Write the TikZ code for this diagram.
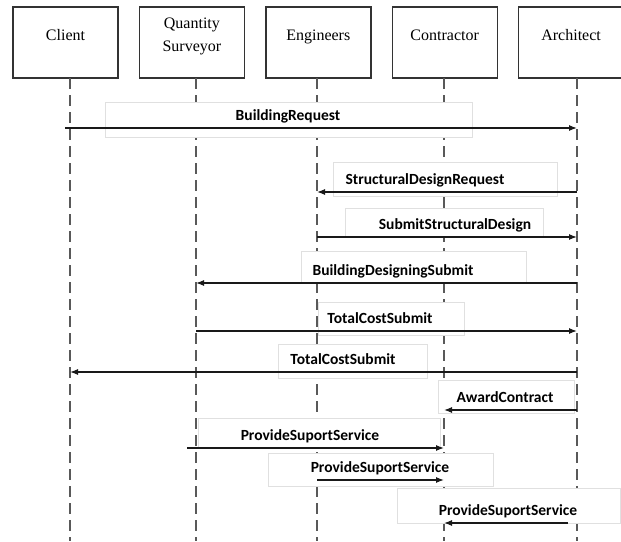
\documentclass[tikz,border=0pt]{standalone}
\usepackage{fontspec}
\setmainfont{Liberation Serif}
\newfontfamily\msgfont{Carlito}
\usetikzlibrary{arrows.meta, positioning}

\newcommand{\headtext}[1]{\raisebox{7pt}[\height][\depth]{\begin{tabular}{@{}c@{}}#1\end{tabular}}}

\begin{document}
\begin{tikzpicture}[
        x=1pt, y=-1pt,
        node distance=20pt,
        actor/.style={draw=black!80, line width=1.4pt, minimum width=105pt, minimum height=71pt, inner sep=0pt, font=\fontsize{16}{23}\selectfont},
        lifeline/.style={draw=black!65, line width=1.5pt, dash pattern=on 11pt off 6pt},
        lblbox/.style={draw=black!12, fill=white, line width=0.8pt},
        msglabel/.style={anchor=south, inner xsep=0pt, inner ysep=3pt, text height=11pt, text depth=4pt, font=\msgfont\bfseries\fontsize{15.5}{18}\selectfont},
        msg/.style={draw=black!90, line width=1.2pt, -{Latex[length=8pt, width=6pt]}},
    ]
    \useasboundingbox (0,0) rectangle (621,541);

    % actors
    \node[actor] (client) at (65.5,42.5) {\headtext{Client}};
    \node[actor, right=of client] (qs) {\headtext{Quantity\\Surveyor}};
    \node[actor, right=of qs] (eng) {\headtext{Engineers}};
    \node[actor, right=of eng] (con) {\headtext{Contractor}};
    \node[actor, right=of con] (arch) {\headtext{Architect}};

    % lifelines
    \foreach \name/\x in {client/70, qs/196, eng/317, con/444, arch/577}{
        \coordinate (l-\name) at (\x,78);
        \draw[lifeline] (l-\name) -- (\x,541);
    }

    % BuildingRequest
    \draw[lblbox] (105,102) rectangle (472,137);
    \node[msglabel] (br) at (288,128) {BuildingRequest};
    \draw[msg] ([xshift=-5pt]l-client |- br.south) -- (l-arch |- br.south);

    % StructuralDesignRequest
    \draw[lblbox] (333,162) rectangle (557,196);
    \node[msglabel] (sdr) at (425,192) {StructuralDesignRequest};
    \draw[msg] (l-arch |- sdr.south) -- (l-eng |- sdr.south);

    % SubmitStructuralDesign
    \draw[lblbox] (345,208) rectangle (543,236);
    \node[msglabel] (ssd) at (455,237) {SubmitStructuralDesign};
    \draw[msg] (l-eng |- ssd.south) -- (l-arch |- ssd.south);

    % BuildingDesigningSubmit
    \draw[lblbox] (301,251) rectangle (526,283);
    \node[msglabel] (bds) at (393,283) {BuildingDesigningSubmit};
    \draw[msg] (l-arch |- bds.south) -- (l-qs |- bds.south);

    % TotalCostSubmit (QS -> Architect)
    \draw[lblbox] (318,302) rectangle (464,335);
    \node[msglabel] (tcs1) at (380,331) {TotalCostSubmit};
    \draw[msg] (l-qs |- tcs1.south) -- (l-arch |- tcs1.south);

    % TotalCostSubmit (Architect -> Client)
    \draw[lblbox] (278,344) rectangle (427,378);
    \node[msglabel] (tcs2) at (343,372) {TotalCostSubmit};
    \draw[msg] (l-arch |- tcs2.south) -- (l-client |- tcs2.south);

    % AwardContract
    \draw[lblbox] (438,380) rectangle (574,413);
    \node[msglabel] (ac) at (505,410) {AwardContract};
    \draw[msg] (l-arch |- ac.south) -- (l-con |- ac.south);

    % ProvideSuportService x3
    \draw[lblbox] (198,418) rectangle (440,448);
    \node[msglabel] (pss1) at (310,448) {ProvideSuportService};
    \draw[msg] ([xshift=-9pt]l-qs |- pss1.south) -- (l-con |- pss1.south);

    \draw[lblbox] (268,453) rectangle (493,486);
    \node[msglabel] (pss2) at (380,480) {ProvideSuportService};
    \draw[msg] (l-eng |- pss2.south) -- (l-con |- pss2.south);

    \draw[lblbox] (397,488) rectangle (620,523);
    \node[msglabel] (pss3) at (508,523) {ProvideSuportService};
    \draw[msg] ([xshift=-9pt]l-arch |- pss3.south) -- (l-con |- pss3.south);
\end{tikzpicture}
\end{document}
